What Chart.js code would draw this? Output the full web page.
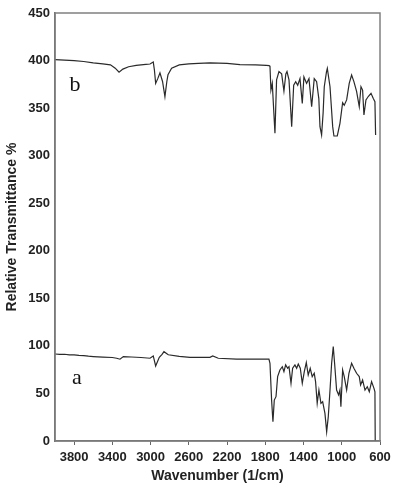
<!DOCTYPE html>
<html lang="en">
<head>
    <meta charset="UTF-8">
    <title>IR Spectra</title>
    <style>
        body { margin: 0; background: #fff; }
        .chart-container { width: 401px; height: 487px; }
    </style>
</head>
<body>
    <div class="chart-container">
        <canvas id="chartArea"></canvas>
    </div>

    <script src="https://cdn.jsdelivr.net/npm/chart.js@4.4.0/dist/chart.umd.min.js"></script>
    <script>
        // x tick labels (wavenumber, axis reversed)
        var xTicks = [3800, 3400, 3000, 2600, 2200, 1800, 1400, 1000, 600];

        // trace b (upper)
        var wnB = [4000, 3900, 3800, 3700, 3600, 3500, 3420, 3370, 3330, 3290, 3230, 3150, 3050, 3006, 2972, 2960, 2947, 2925, 2902, 2875, 2850, 2830, 2818, 2780, 2700, 2600, 2500, 2379, 2200, 2065, 1900, 1790, 1760, 1751, 1741, 1727, 1699, 1682, 1657, 1629, 1605, 1585, 1573, 1552, 1524, 1503, 1482, 1461, 1437, 1413, 1396, 1368, 1343, 1315, 1288, 1263, 1240, 1228, 1211, 1195, 1183, 1160, 1151, 1123, 1095, 1082, 1047, 1019, 991, 974, 949, 922, 897, 873, 845, 817, 799, 782, 768, 747, 723, 694, 670, 653, 646];
        var transB = [401, 400.5, 400, 399, 397.5, 396.5, 395.5, 392, 387.7, 391, 393.5, 395, 396, 396.4, 398.5, 390, 376, 381, 387, 378, 362, 378, 385, 392, 395.5, 396.5, 397, 397.5, 397, 395.8, 395.5, 395, 394.6, 394, 369, 376, 323.5, 379.6, 388.4, 386, 368, 386, 388.4, 379.6, 330.5, 374, 377.8, 374, 381, 355, 382.8, 376, 381, 351.5, 381, 377.8, 360, 330.5, 321.8, 345, 372.5, 388, 391.7, 372.5, 330.5, 320.7, 320.7, 334, 355.7, 353, 358.6, 376, 384.8, 377.8, 367.6, 351.5, 372.5, 369, 342.8, 358.6, 362.2, 365.5, 360.2, 356.8, 321.8];

        // trace a (lower)
        var wnA = [4000, 3950, 3900, 3850, 3800, 3750, 3700, 3650, 3600, 3550, 3500, 3400, 3355, 3320, 3285, 3200, 3100, 3006, 2972, 2947, 2909, 2880, 2860, 2815, 2700, 2588, 2379, 2350, 2292, 2100, 1900, 1762, 1751, 1734, 1720, 1706, 1688, 1671, 1647, 1622, 1605, 1587, 1566, 1552, 1531, 1514, 1490, 1472, 1455, 1434, 1413, 1392, 1371, 1351, 1330, 1309, 1288, 1274, 1257, 1239, 1218, 1200, 1176, 1158, 1141, 1123, 1106, 1089, 1075, 1054, 1033, 1019, 1009, 991, 974, 949, 925, 897, 873, 845, 817, 803, 782, 757, 733, 712, 688, 663, 653, 650];
        var transA = [91.5, 91, 91.2, 90.5, 90.6, 90, 89.8, 89.2, 88.8, 88.5, 88.2, 87.8, 87, 86, 88.7, 88.3, 87.8, 87, 89.4, 78.9, 88, 91, 93.9, 90.7, 89, 88, 88, 89.4, 87, 86, 86, 86, 81.7, 43, 20.3, 43, 46.6, 67.7, 74.7, 78.1, 72.9, 80, 76.5, 78.1, 60.7, 76.5, 80, 76.5, 81, 76.5, 60.7, 72.9, 82.5, 69.4, 76.5, 67.7, 71.2, 62.4, 39.6, 53.6, 39.6, 41.3, 29.1, 9.8, 25.6, 53.6, 81.7, 99.2, 81.7, 53.6, 48.4, 53.6, 36.1, 74.7, 67.7, 53.6, 71.2, 81.7, 76.5, 71.2, 67.7, 58.9, 64.1, 53.6, 57.1, 51.8, 62.4, 55.4, 51.8, 0];

        // trace letters and where they sit (data units)
        var traceNames = ['a', 'b'];
        var nameWn = [3770, 3790];
        var nameT = [66, 374];

        function toPoints(xs, ys) {
            return xs.map((x, i) => ({x: x, y: ys[i]}));
        }

        const framePlugin = {
            id: 'frame',
            afterDraw(chart) {
                const ctx = chart.ctx;
                const a = chart.chartArea;
                ctx.save();
                ctx.strokeStyle = '#808080';
                ctx.lineWidth = 1.5;
                ctx.strokeRect(a.left, a.top, a.right - a.left, a.bottom - a.top);
                ctx.fillStyle = '#111';
                ctx.font = '22px "Liberation Serif"';
                ctx.textAlign = 'center';
                ctx.textBaseline = 'middle';
                for (let i = 0; i < traceNames.length; i++) {
                    ctx.fillText(traceNames[i],
                        chart.scales.x.getPixelForValue(nameWn[i]),
                        chart.scales.y.getPixelForValue(nameT[i]));
                }
                ctx.restore();
            }
        };

        const lineStyle = {
            borderColor: '#2a2a2a',
            borderWidth: 1.2,
            pointRadius: 0,
            tension: 0,
            fill: false
        };

        const config = {
            type: 'line',
            data: {
                datasets: [
                    Object.assign({label: 'b', data: toPoints(wnB, transB)}, lineStyle),
                    Object.assign({label: 'a', data: toPoints(wnA, transA)}, lineStyle)
                ]
            },
            options: {
                responsive: true,
                maintainAspectRatio: false,
                animation: false,
                layout: {padding: {top: 13, right: 21, left: 0, bottom: 0}},
                plugins: {
                    legend: {display: false},
                    tooltip: {enabled: false}
                },
                scales: {
                    x: {
                        type: 'linear',
                        reverse: true,
                        min: 600,
                        max: 4000,
                        afterBuildTicks: s => { s.ticks = xTicks.map(v => ({value: v})); },
                        afterFit: s => { s.height = 46; },
                        ticks: {
                            font: {family: 'Liberation Sans', size: 13, weight: 'bold'},
                            color: '#222',
                            padding: 5,
                            maxRotation: 0,
                            autoSkip: false,
                            callback: v => String(v)
                        },
                        grid: {drawOnChartArea: false, drawTicks: true, tickLength: 4, color: '#666'},
                        border: {color: '#666', width: 1.5},
                        title: {
                            display: true,
                            text: 'Wavenumber (1/cm)',
                            font: {family: 'Liberation Sans', size: 14, weight: 'bold'},
                            color: '#222',
                            padding: {top: 0, bottom: 2}
                        }
                    },
                    y: {
                        min: 0,
                        max: 450,
                        afterFit: s => { s.width = 55; },
                        ticks: {
                            stepSize: 50,
                            font: {family: 'Liberation Sans', size: 13, weight: 'bold'},
                            color: '#222',
                            padding: 5,
                            callback: v => String(v)
                        },
                        grid: {drawOnChartArea: false, drawTicks: false, color: '#666'},
                        border: {color: '#666', width: 1.5},
                        title: {
                            display: true,
                            text: 'Relative Transmittance %',
                            font: {family: 'Liberation Sans', size: 14, weight: 'bold'},
                            color: '#222',
                            padding: {top: 4, bottom: 0}
                        }
                    }
                }
            },
            plugins: [framePlugin]
        };

        var myChart = new Chart(document.getElementById('chartArea'), config);
    </script>
</body>
</html>
